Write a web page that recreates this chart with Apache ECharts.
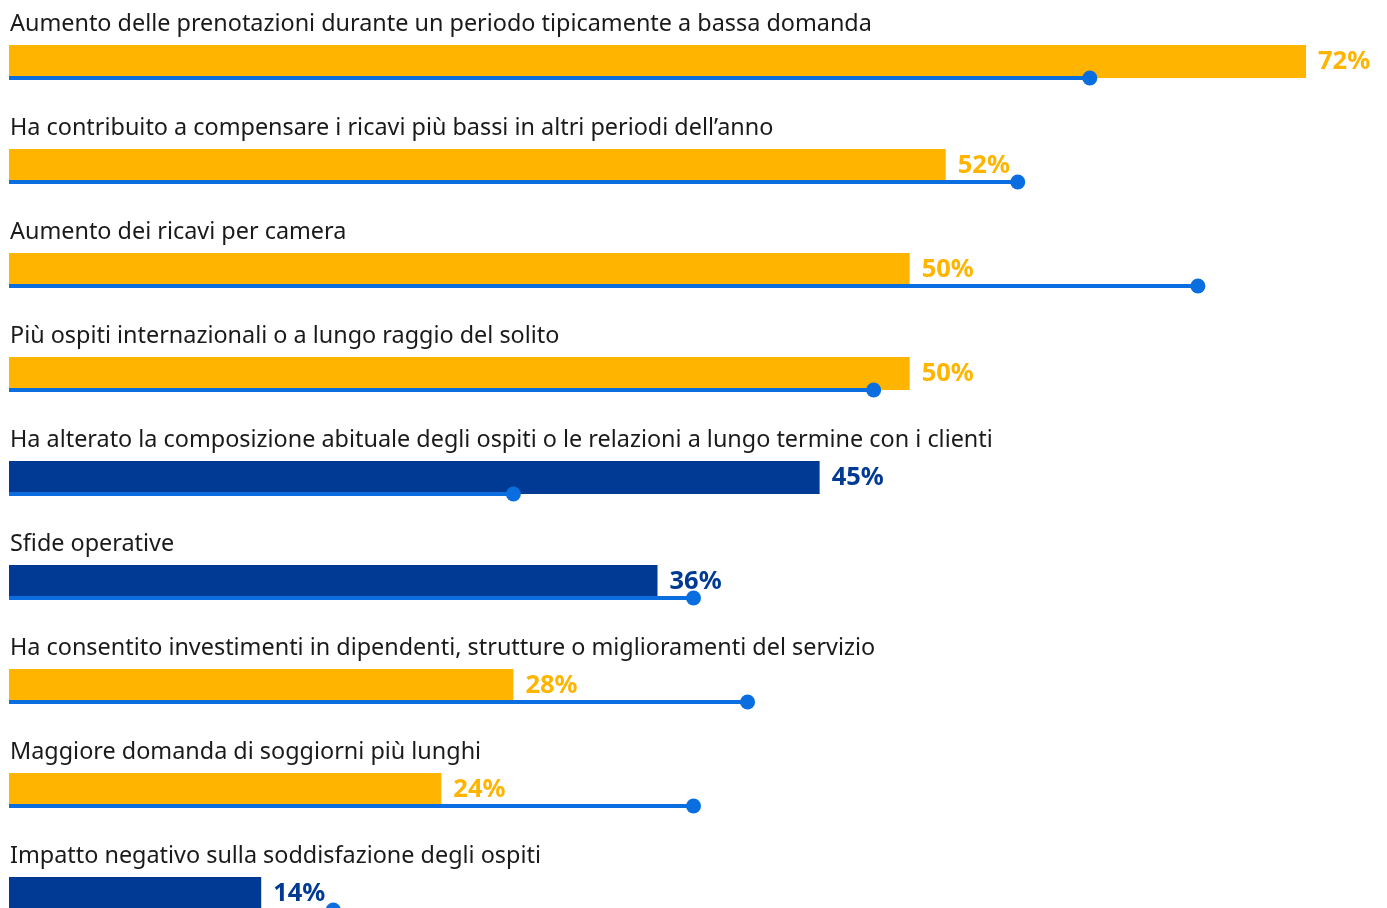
<!DOCTYPE html>
<html>
<head>
<meta charset="utf-8">
<script src="https://cdn.jsdelivr.net/npm/echarts@6/dist/echarts.min.js"></script>
<style>
html,body{margin:0;padding:0;background:#fff;}
#chart{width:1387px;height:908px;}
</style>
</head>
<body>
<div id="chart"></div>
<script>
// categorie (dall'alto in basso)
var categories = [
	"Aumento delle prenotazioni durante un periodo tipicamente a bassa domanda",
	"Ha contribuito a compensare i ricavi più bassi in altri periodi dell’anno",
	"Aumento dei ricavi per camera",
	"Più ospiti internazionali o a lungo raggio del solito",
	"Ha alterato la composizione abituale degli ospiti o le relazioni a lungo termine con i clienti",
	"Sfide operative",
	"Ha consentito investimenti in dipendenti, strutture o miglioramenti del servizio",
	"Maggiore domanda di soggiorni più lunghi",
	"Impatto negativo sulla soddisfazione degli ospiti"
];
// valori delle barre
var barValues = [72, 52, 50, 50, 45, 36, 28, 24, 14];
// tipo di barra: 0 = giallo, 1 = blu scuro
var barTypes = [0, 0, 0, 0, 1, 1, 0, 0, 1];
// valori della linea con punto
var lineValues = [60, 56, 66, 48, 28, 38, 41, 38, 18];

var YELLOW = '#FFB500';
var NAVY = '#003A94';
var LINE = '#0A6EE0';

var chart = echarts.init(document.getElementById('chart'));

var barData = [];
for (var i = 0; i < barValues.length; i++) {
	var c = barTypes[i] == 1 ? NAVY : YELLOW;
	barData.push({
		value: barValues[i],
		itemStyle: {color: c},
		label: {color: c}
	});
}

var lineData = [];
for (var j = 0; j < lineValues.length; j++) {
	lineData.push([lineValues[j], j]);
}

var option = {
	backgroundColor: '#ffffff',
	animation: false,
	grid: {left: 9, top: 9.5, width: 1297, height: 936, containLabel: false, outerBoundsMode: 'none'},
	xAxis: {
		type: 'value',
		min: 0,
		max: 72,
		show: false
	},
	yAxis: {
		type: 'category',
		inverse: true,
		data: categories,
		axisLine: {show: false},
		axisTick: {show: false},
		splitLine: {show: false},
		axisLabel: {show: false}
	},
	series: [
		{
			type: 'bar',
			data: barData,
			barWidth: 33,
			label: {
				show: true,
				position: 'right',
				distance: 12,
				formatter: '{c}%',
				fontFamily: 'Noto Sans',
				fontWeight: 'bold',
				fontSize: 25.5
			}
		},
		{
			type: 'custom',
			data: lineData,
			z: 5,
			renderItem: function(params, api) {
				var idx = api.value(1);
				var start = api.coord([0, idx]);
				var end = api.coord([api.value(0), idx]);
				var y = start[1] + 16.5;
				return {
					type: 'group',
					children: [
						{
							type: 'text',
							x: start[0] + 1,
							y: start[1] - 37,
							style: {
								text: categories[idx],
								fill: '#1a1a1a',
								font: '23.4px "Noto Sans"',
								verticalAlign: 'middle',
								align: 'left'
							}
						},
						{
							type: 'line',
							shape: {x1: start[0], y1: y, x2: end[0], y2: y},
							style: {stroke: LINE, lineWidth: 4}
						},
						{
							type: 'circle',
							shape: {cx: end[0], cy: y, r: 7.5},
							style: {fill: LINE}
						}
					]
				};
			}
		}
	]
};

chart.setOption(option);
</script>
</body>
</html>
